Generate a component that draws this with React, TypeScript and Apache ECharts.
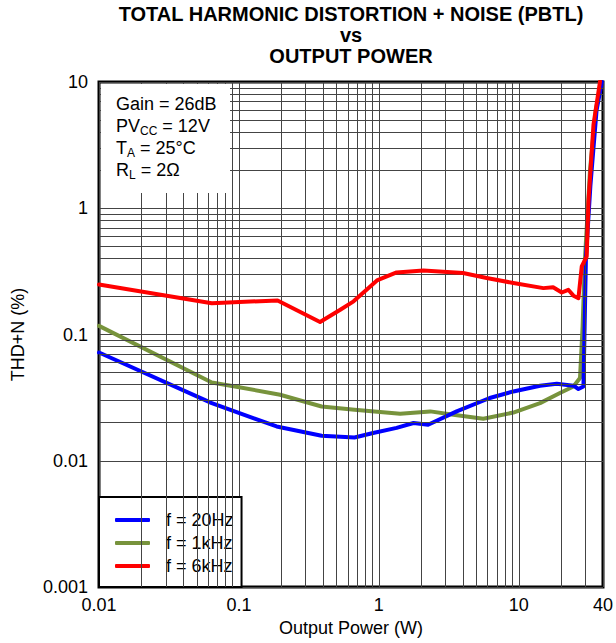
import React, { useEffect, useRef } from 'react';
import * as echarts from 'echarts';

const FONT = '"Liberation Sans", Arial, Helvetica, sans-serif';

// Output power (W) and THD+N (%)
const p20Hz = [0.01, 0.064, 0.186, 0.39, 0.67, 0.91, 1.34, 1.77, 2.25, 3.6, 6.2, 9.15, 14.2, 18.7, 24.6, 26.7, 29.0, 29.5, 30.2, 32.5, 36, 39.3];
const thd20Hz = [0.072, 0.0286, 0.0187, 0.0158, 0.0153, 0.0166, 0.0182, 0.0199, 0.0193, 0.0246, 0.0314, 0.0354, 0.0393, 0.0407, 0.0393, 0.037, 0.0387, 0.1, 0.4, 1.5, 6, 10];

const p1kHz = [0.01, 0.064, 0.0936, 0.197, 0.39, 0.67, 1.42, 2.33, 3.41, 5.58, 9.15, 14.2, 19.7, 24.6, 27.4, 28.6, 29.7, 32.3, 35.5, 39.0];
const thd1kHz = [0.117, 0.0417, 0.0388, 0.0333, 0.0269, 0.0254, 0.0236, 0.0246, 0.0231, 0.0215, 0.0241, 0.0286, 0.0344, 0.0387, 0.0452, 0.116, 0.39, 2.0, 6, 10];

const p6kHz = [0.01, 0.064, 0.189, 0.38, 0.53, 0.66, 0.97, 1.34, 2.08, 4.0, 5.9, 9.15, 15, 17.6, 20.3, 22.6, 24.6, 26.7, 28.2, 30.6, 31.5, 34.2, 38.1];
const thd6kHz = [0.249, 0.177, 0.186, 0.1256, 0.157, 0.183, 0.268, 0.31, 0.322, 0.307, 0.28, 0.256, 0.233, 0.237, 0.215, 0.226, 0.203, 0.194, 0.346, 0.415, 1.13, 4.58, 10.1];

const seriesNames = ['f = 20Hz', 'f = 1kHz', 'f = 6kHz'];
const xMin = 0.01;
const xMax = 40;
const yMin = 0.001;
const yMax = 10;
const xDecades = [0.01, 0.1, 1, 10];
const yDecades = [0.001, 0.01, 0.1, 1];
const minorSteps = [2, 3, 4, 5, 6, 7, 8, 9];

const annotation = 'Gain = 26dB\nPV{sub|CC} = 12V\nT{sub|A} = 25°C\nR{sub|L} = 2Ω';
const titleText = 'TOTAL HARMONIC DISTORTION + NOISE (PBTL)\nvs\nOUTPUT POWER';

const zip = (xs: number[], ys: number[]) => xs.map((x, i) => [x, ys[i]]);

export default function App() {
  const ref = useRef<HTMLDivElement>(null);
  useEffect(() => {
    if (!ref.current) return;
    const chart = echarts.init(ref.current, null, { renderer: 'svg' });

    const xGrid: number[] = [];
    xDecades.forEach((d) => minorSteps.forEach((m) => { const v = +(d * m).toPrecision(3); if (v < xMax) xGrid.push(v); }));
    const yGrid: number[] = [];
    yDecades.forEach((d) => minorSteps.forEach((m) => { const v = +(d * m).toPrecision(3); if (v < yMax) yGrid.push(v); }));

    const fmt = (v: number) => String(Number(Number(v).toPrecision(4)));
    const lineSeries = (name: string, data: number[][], color: string, z: number) => ({
      name, type: 'line', data, symbol: 'none', showSymbol: false, z,
      lineStyle: { width: 4, color, cap: 'round', join: 'round' },
      itemStyle: { color },
      emphasis: { disabled: true }, silent: true,
    });

    chart.setOption({
      animation: false,
      backgroundColor: '#fff',
      grid: { left: 99, top: 82, right: 13, bottom: 56, show: true, borderColor: '#000', borderWidth: 3, backgroundColor: 'transparent' },
      xAxis: {
        type: 'log', logBase: 10, min: xMin, max: xMax,
        name: 'Output Power (W)', nameLocation: 'middle', nameGap: 30,
        nameTextStyle: { fontSize: 18, fontFamily: FONT, color: '#000' },
        axisLine: { show: false }, axisTick: { show: false },
        axisLabel: { fontSize: 18, fontFamily: FONT, color: '#000', margin: 9, formatter: fmt, showMaxLabel: true, showMinLabel: true },
        splitLine: { show: true, lineStyle: { color: '#444', width: 1 } },
      },
      yAxis: {
        type: 'log', logBase: 10, min: yMin, max: yMax,
        name: 'THD+N (%)', nameLocation: 'middle', nameGap: 72,
        nameTextStyle: { fontSize: 18, fontFamily: FONT, color: '#000' },
        axisLine: { show: false }, axisTick: { show: false },
        axisLabel: { fontSize: 18, fontFamily: FONT, color: '#000', margin: 11, formatter: fmt },
        splitLine: { show: true, lineStyle: { color: '#444', width: 1 } },
      },
      legend: {
        orient: 'vertical', left: 99, top: 497,
        data: seriesNames,
        icon: 'roundRect', itemWidth: 35, itemHeight: 4, itemGap: 5,
        padding: [14, 8, 12, 16],
        backgroundColor: '#fff', borderColor: '#000', borderWidth: 2, borderRadius: 0,
        selectedMode: false,
        textStyle: { fontSize: 18, fontFamily: FONT, color: '#000', lineHeight: 18, padding: [0, 0, 0, 11] },
      },
      graphic: [
        { type: 'text', x: 351, y: 3, z: 20, silent: true,
          style: { text: titleText, fontSize: 20, fontWeight: 'bold', fontFamily: FONT, fill: '#000', align: 'center', verticalAlign: 'top', lineHeight: 21 } },
        { type: 'rect', z: 10, silent: true, shape: { x: 101, y: 84, width: 129, height: 109 }, style: { fill: '#fff' } },
        { type: 'text', x: 116, y: 93, z: 11, silent: true,
          style: { text: annotation, fontSize: 18, fontFamily: FONT, fill: '#000', align: 'left', verticalAlign: 'top', lineHeight: 22,
            rich: { sub: { fontSize: 12, fontFamily: FONT, fill: '#000', lineHeight: 10, verticalAlign: 'bottom' } } } },
      ],
      series: [
        {
          name: 'grid', type: 'line', data: [[1, 1]], symbol: 'none', z: 1, silent: true,
          lineStyle: { opacity: 0 },
          markLine: {
            silent: true, symbol: 'none', label: { show: false }, animation: false,
            lineStyle: { type: 'solid', color: '#444', width: 1 },
            emphasis: { disabled: true },
            data: [...xGrid.map((v) => ({ xAxis: v })), ...yGrid.map((v) => ({ yAxis: v }))],
          },
        },
        lineSeries(seriesNames[1], zip(p1kHz, thd1kHz), '#77933c', 3),
        lineSeries(seriesNames[0], zip(p20Hz, thd20Hz), '#0000ff', 4),
        lineSeries(seriesNames[2], zip(p6kHz, thd6kHz), '#ff0000', 5),
      ],
    });
    return () => chart.dispose();
  }, []);
  return <div ref={ref} style={{ width: 616, height: 643, position: 'absolute', left: 0, top: 0 }} />;
}
